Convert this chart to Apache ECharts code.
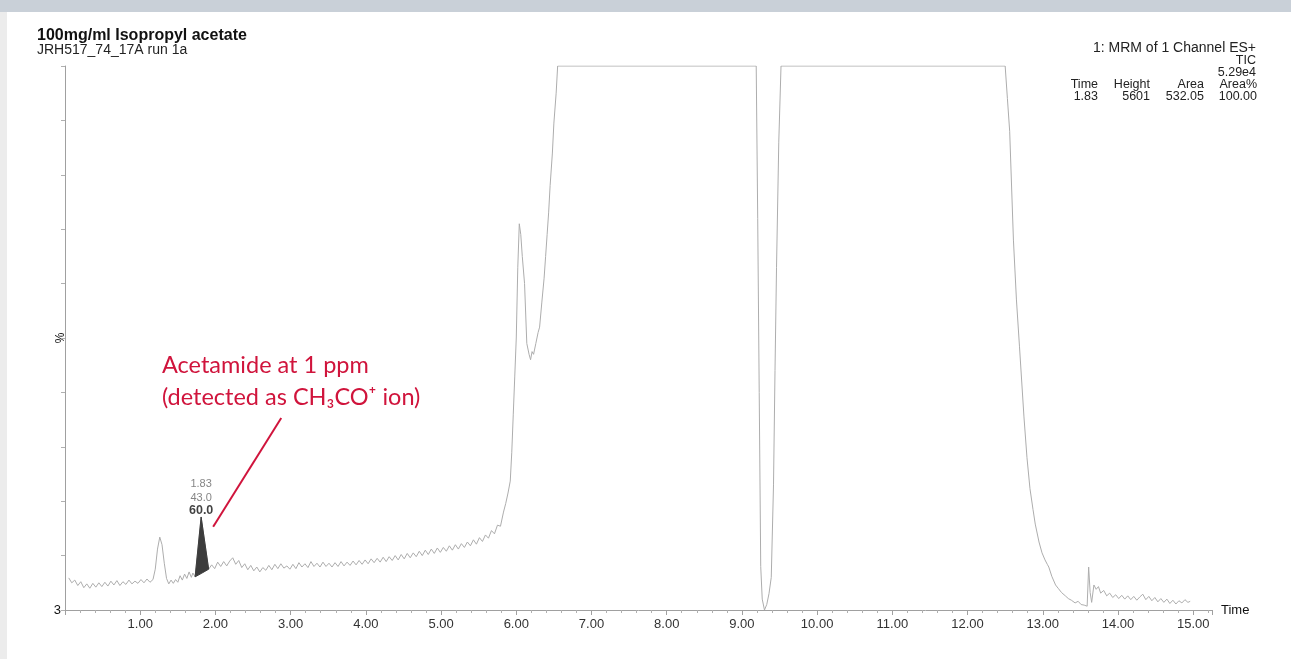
<!DOCTYPE html>
<html>
<head>
<meta charset="utf-8">
<title>100mg/ml Isopropyl acetate</title>
<script src="https://cdn.jsdelivr.net/npm/echarts@6/dist/echarts.min.js"></script>
<style>
  html, body { margin: 0; padding: 0; background: #fff; }
  #main { width: 1291px; height: 659px; }
</style>
</head>
<body>
<div id="main"></div>
<script>
// TIC trace, [time (min), intensity (%)]
var tic = [
  [0.05,5.9],[0.09,5.0],[0.13,5.5],[0.17,4.5],[0.21,5.2],[0.25,4.1],[0.29,4.8],[0.33,4.0],[0.37,4.9],[0.41,4.2],
  [0.45,5.0],[0.49,4.3],[0.53,5.1],[0.57,4.4],[0.61,5.3],[0.65,4.6],[0.69,5.4],[0.73,4.5],[0.77,5.2],[0.81,4.7],
  [0.85,5.5],[0.89,4.8],[0.93,5.3],[0.97,4.9],[1.01,5.6],[1.05,5.0],[1.09,5.7],[1.13,5.1],[1.17,5.6],
  [1.20,7.5],[1.23,11.2],[1.26,13.4],[1.29,12.0],[1.32,8.6],[1.35,5.8],[1.38,4.8],[1.41,5.5],[1.44,4.9],[1.47,5.6],
  [1.50,5.1],[1.53,6.3],[1.56,5.5],[1.59,6.6],[1.62,5.8],[1.65,7.0],[1.68,6.0],[1.70,6.8],[1.73,6.1],[1.81,17.1],[1.91,7.5],
  [1.95,8.3],[1.99,7.6],[2.03,8.8],[2.07,8.0],[2.11,8.9],[2.15,8.1],[2.19,9.0],[2.23,9.6],[2.27,8.4],[2.31,9.1],
  [2.35,7.8],[2.39,8.5],[2.43,7.4],[2.47,8.2],[2.51,7.2],[2.55,7.9],[2.59,7.0],[2.63,7.8],[2.67,7.3],[2.71,8.2],
  [2.75,7.4],[2.79,8.4],[2.83,7.6],[2.87,8.5],[2.91,7.7],[2.95,8.1],[2.99,7.5],[3.03,8.4],[3.07,7.6],[3.11,8.7],
  [3.15,7.9],[3.19,8.5],[3.23,7.8],[3.27,8.9],[3.31,8.0],[3.35,8.6],[3.39,7.9],[3.43,8.8],[3.47,8.0],[3.51,8.6],
  [3.55,7.9],[3.59,8.7],[3.63,8.0],[3.67,8.9],[3.71,8.1],[3.75,8.8],[3.79,8.2],[3.83,9.0],[3.87,8.3],[3.91,9.1],
  [3.95,8.4],[3.99,9.2],[4.03,8.5],[4.07,9.4],[4.11,8.7],[4.15,9.5],[4.19,8.8],[4.23,9.7],[4.27,8.9],[4.31,9.8],
  [4.35,9.1],[4.39,10.0],[4.43,9.2],[4.47,10.2],[4.51,9.4],[4.55,10.4],[4.59,9.6],[4.63,10.5],[4.67,9.8],[4.71,10.8],
  [4.75,10.0],[4.79,11.0],[4.83,10.2],[4.87,11.2],[4.91,10.4],[4.95,11.4],[4.99,10.6],[5.03,11.5],[5.07,10.8],[5.11,11.8],
  [5.15,11.0],[5.19,12.0],[5.23,11.2],[5.27,12.2],[5.31,11.5],[5.35,12.5],[5.39,11.8],[5.43,12.9],[5.47,12.1],[5.51,13.3],
  [5.55,12.6],[5.59,13.8],[5.63,13.2],[5.67,14.6],[5.71,14.0],[5.75,15.6],[5.79,15.4],[5.83,18.0],[5.86,19.6],[5.89,21.5],
  [5.92,23.7],[5.94,29],[5.96,36],[5.98,43],[6.00,50],[6.02,63],[6.04,71],[6.06,69],[6.08,65],[6.11,60],
  [6.14,49],[6.17,47],[6.19,46],[6.21,47.5],[6.23,47],[6.26,49],[6.29,51],[6.31,52],[6.34,56.6],[6.37,61],
  [6.39,65],[6.41,69],[6.43,73],[6.45,78],[6.48,84],[6.50,89.5],[6.53,95],[6.55,100],
  [9.19,100],[9.21,72],[9.23,40],[9.25,8],[9.27,2],[9.30,0],[9.33,1],[9.36,3],[9.39,6],[9.42,23],
  [9.44,44],[9.46,63],[9.49,86],[9.52,100],
  [12.50,100],[12.53,94],[12.56,88],[12.61,68],[12.65,57],[12.69,48.5],[12.75,35.5],[12.79,28],[12.83,22.3],[12.87,18.5],
  [12.90,15.8],[12.95,12.5],[12.99,10.5],[13.03,9.2],[13.06,8.4],[13.08,7.9],[13.12,6.2],[13.17,4.6],[13.21,3.9],[13.25,3.2],
  [13.30,2.6],[13.34,2.1],[13.38,1.8],[13.43,1.3],[13.47,1.6],[13.51,1.0],[13.55,0.9],[13.59,0.7],[13.61,7.9],[13.63,3.2],
  [13.65,1.4],[13.68,4.6],[13.71,3.8],[13.74,4.3],[13.77,3.1],[13.81,3.6],[13.85,2.6],[13.89,3.1],[13.93,2.3],[13.97,2.8],
  [14.01,2.1],[14.05,2.7],[14.09,2.0],[14.13,2.6],[14.17,1.9],[14.21,2.5],[14.25,1.8],[14.29,2.4],[14.33,2.9],[14.37,1.9],
  [14.41,2.5],[14.45,1.7],[14.49,2.3],[14.53,1.5],[14.57,2.1],[14.61,1.4],[14.65,2.0],[14.69,1.2],[14.73,1.8],[14.77,1.1],
  [14.81,1.7],[14.85,1.3],[14.89,1.9],[14.93,1.4],[14.96,1.6]
];

// integrated peak at 1.83 min (shaded between the peak and its baseline)
var peakTime = [1.73, 1.81, 1.91];
var peakBase = [6.1, 6.7, 7.5];
var peakTop = [6.1, 17.1, 7.5];
var peakLabels = ['1.83', '43.0', '60.0'];

// x axis: labels on whole minutes 1..15
var xMin = 0, xMax = 15.25;

// header block (top right)
var headerLines = ['1: MRM of 1 Channel ES+', 'TIC', '5.29e4'];
var tableHead = ['Time', 'Height', 'Area', 'Area%'];
var tableRow = ['1.83', '5601', '532.05', '100.00'];

var myChart = echarts.init(document.getElementById('main'));

var peakData = peakTime.map(function (t, i) { return [t, peakTop[i], peakBase[i]]; });
var apexIdx = 1;

var font = 'Liberation Sans';
var red = '#d0143c';
var graphics = [
    { type: 'rect', shape: { x: 0, y: 0, width: 1291, height: 12 }, style: { fill: '#c9d0d8' }, silent: true },
    { type: 'rect', shape: { x: 0, y: 12, width: 7, height: 647 }, style: { fill: '#ececec' }, silent: true },
    { type: 'text', x: 37, y: 36, style: { text: '100mg/ml Isopropyl acetate', fontFamily: font, fontSize: 16, fontWeight: 'bold', fill: '#111', verticalAlign: 'middle' } },
    { type: 'text', x: 37, y: 50, style: { text: 'JRH517_74_17A run 1a', fontFamily: font, fontSize: 14, fill: '#222', verticalAlign: 'middle' } },
    { type: 'text', x: 61, y: 338, rotation: Math.PI / 2, style: { text: '%', fontFamily: font, fontSize: 12, fill: '#111', align: 'center', verticalAlign: 'middle' } },
    // red annotation
    { type: 'text', x: 162, y: 365, style: { text: 'Acetamide at 1 ppm', fontFamily: 'Lato', fontSize: 23.5, fill: red, verticalAlign: 'middle' } },
    { type: 'text', x: 162, y: 397, style: { text: '(detected as CH\u2083CO\u207a ion)', fontFamily: 'Lato', fontSize: 23.5, fill: red, verticalAlign: 'middle' } }
];
// header text, right aligned
var headerY = [48, 61, 73];
var headerSize = [14, 12.5, 12.5];
headerLines.forEach(function (s, i) {
    graphics.push({ type: 'text', x: 1256, y: headerY[i], style: { text: s, fontFamily: font, fontSize: headerSize[i], fill: '#222', align: 'right', verticalAlign: 'middle' } });
});
var colRight = [1098, 1150, 1204, 1257];
tableHead.forEach(function (s, i) {
    graphics.push({ type: 'text', x: colRight[i], y: 85, style: { text: s, fontFamily: font, fontSize: 12.5, fill: '#222', align: 'right', verticalAlign: 'middle' } });
    graphics.push({ type: 'text', x: colRight[i], y: 97, style: { text: tableRow[i], fontFamily: font, fontSize: 12.5, fill: '#222', align: 'right', verticalAlign: 'middle' } });
});

var option = {
    animation: false,
    backgroundColor: '#fff',
    grid: { left: 65, right: 79, top: 66, bottom: 49, containLabel: false },
    xAxis: {
        type: 'value',
        min: xMin,
        max: xMax,
        interval: 1,
        name: 'Time',
        nameLocation: 'end',
        nameGap: 9,
        nameTextStyle: { fontFamily: font, fontSize: 13, color: '#111', verticalAlign: 'middle' },
        axisLine: { lineStyle: { color: '#a0a0a0', width: 1 } },
        axisTick: { show: true, length: 5, lineStyle: { color: '#a0a0a0' } },
        minorTick: { show: true, splitNumber: 5, length: 3, lineStyle: { color: '#b0b0b0' } },
        splitLine: { show: false },
        axisLabel: {
            margin: 8,
            fontFamily: font,
            fontSize: 13,
            color: '#333',
            formatter: function (v) {
                return (v >= 1 && Math.abs(v - Math.round(v)) < 1e-6) ? v.toFixed(2) : '';
            }
        }
    },
    yAxis: {
        type: 'value',
        min: 0,
        max: 100,
        interval: 10,
        axisLine: { show: true, lineStyle: { color: '#a0a0a0', width: 1 } },
        axisTick: { show: true, length: 4, lineStyle: { color: '#b0b0b0' } },
        splitLine: { show: false },
        axisLabel: {
            margin: 4,
            fontFamily: font,
            fontSize: 13,
            color: '#111',
            formatter: function (v) { return v === 0 ? '3' : ''; }
        }
    },
    graphic: graphics,
    series: [
        {
            name: 'TIC',
            type: 'line',
            data: tic,
            showSymbol: false,
            symbol: 'none',
            lineStyle: { color: '#adadad', width: 1 },
            z: 2,
            markLine: {
                silent: true,
                symbol: ['none', 'arrow'],
                symbolSize: [0, 11],
                label: { show: false },
                lineStyle: { color: red, width: 2, type: 'solid' },
                data: [[{ coord: [2.875, 35.3] }, { coord: [1.97, 15.3] }]]
            }
        },
        {
            // filled peak area: polygon from the peak line back along its baseline
            name: 'peak',
            type: 'custom',
            data: peakData,
            encode: { x: 0, y: 1 },
            z: 4,
            renderItem: function (params, api) {
                if (params.dataIndex !== 0) return;
                var pts = [];
                for (var i = 0; i < peakTime.length; i++) pts.push(api.coord([peakTime[i], peakTop[i]]));
                for (var j = peakTime.length - 1; j >= 0; j--) pts.push(api.coord([peakTime[j], peakBase[j]]));
                return {
                    type: 'polygon',
                    shape: { points: pts },
                    style: { fill: '#3c3c3c', stroke: '#3c3c3c', lineWidth: 1 }
                };
            }
        },
        {
            name: 'peakLabel',
            type: 'scatter',
            symbolSize: 0,
            z: 5,
            data: [{
                value: [peakTime[apexIdx], peakTop[apexIdx]],
                label: {
                    show: true,
                    position: 'top',
                    distance: 1,
                    formatter: '{a|' + peakLabels[0] + '}\n{a|' + peakLabels[1] + '}\n{b|' + peakLabels[2] + '}',
                    rich: {
                        a: { fontFamily: font, fontSize: 11, color: '#666', lineHeight: 14, align: 'center' },
                        b: { fontFamily: font, fontSize: 12.5, fontWeight: 'bold', color: '#111', lineHeight: 11, align: 'center' }
                    }
                }
            }]
        }
    ]
};

myChart.setOption(option);
</script>
</body>
</html>
